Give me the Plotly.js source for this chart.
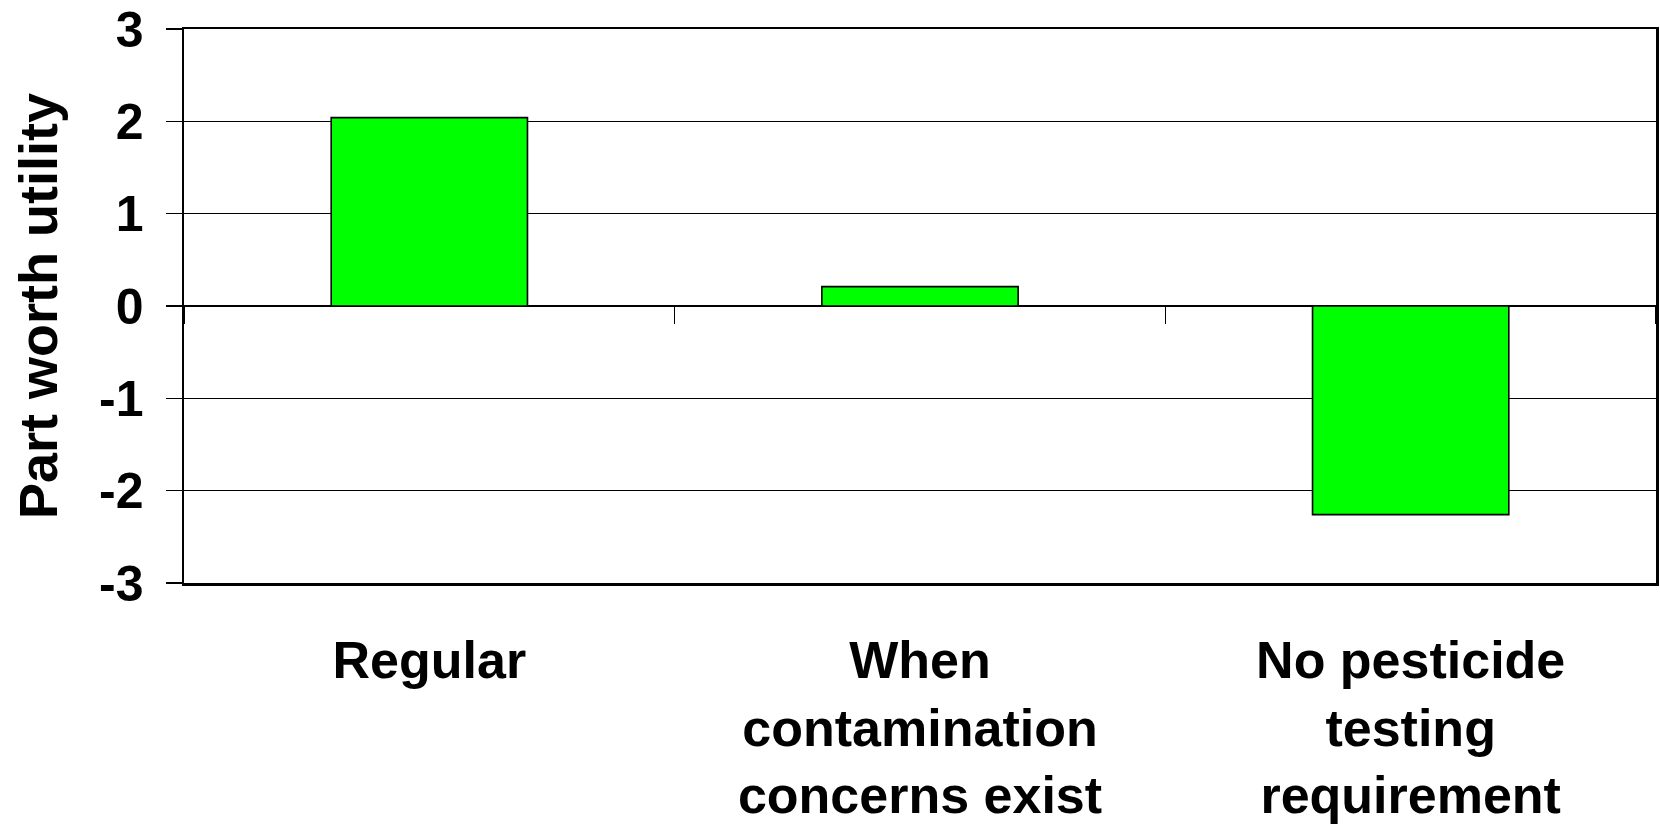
<!DOCTYPE html>
<html>
<head>
<meta charset="utf-8">
<script src="https://cdn.plot.ly/plotly-3.0.1.min.js"></script>
<style>
  html, body { margin: 0; padding: 0; background: #ffffff; }
  #chart { width: 1660px; height: 826px; }
</style>
</head>
<body>
<div id="chart"></div>
<script>
// Part worth utilities by pesticide testing level
const categories = [
  "Regular",
  "When<br>contamination<br>concerns exist",
  "No pesticide<br>testing<br>requirement"
];
const utilities = [2.04, 0.21, -2.26];
const yTickValues = [-3, -2, -1, 0, 1, 2, 3];
const yTitle = "Part worth utility";

const FONT = "Arial, 'Liberation Sans', Helvetica, sans-serif";

const traces = [
  {
    type: "bar",
    x: categories,
    y: utilities,
    marker: { color: "#00FF00", line: { color: "#000000", width: 1.6 } },
    hoverinfo: "x+y",
    showlegend: false
  },
  {
    // carries the category boundary ticks along the zero line
    type: "scatter",
    x: [],
    y: [],
    xaxis: "x2",
    yaxis: "y",
    showlegend: false,
    hoverinfo: "skip"
  }
];

const layout = {
  width: 1660,
  height: 826,
  margin: { l: 184, r: 4, t: 29, b: 243, pad: 0 },
  paper_bgcolor: "#ffffff",
  plot_bgcolor: "#ffffff",
  bargap: 0.6,
  font: { family: FONT, color: "#000000" },
  xaxis: {
    type: "category",
    categoryorder: "array",
    categoryarray: categories,
    range: [-0.5, 2.5],
    showline: true,
    linecolor: "#000000",
    linewidth: 2.5,
    mirror: true,
    ticks: "",
    showgrid: false,
    zeroline: false,
    ticklabelstandoff: 30,
    tickfont: { family: FONT, size: 52, weight: 700, color: "#000000" },
    fixedrange: true
  },
  xaxis2: {
    type: "category",
    overlaying: "x",
    anchor: "free",
    position: 0.5,
    categoryorder: "array",
    categoryarray: categories,
    range: [-0.5, 2.5],
    tickson: "boundaries",
    ticks: "outside",
    ticklen: 17,
    tickwidth: 1.6,
    tickcolor: "#000000",
    showticklabels: false,
    showline: false,
    showgrid: false,
    zeroline: false,
    fixedrange: true
  },
  yaxis: {
    range: [-3, 3],
    tickvals: yTickValues,
    ticktext: yTickValues.map(String),
    showline: true,
    linecolor: "#000000",
    linewidth: 2.5,
    mirror: true,
    ticks: "outside",
    ticklen: 16,
    tickwidth: 1.4,
    tickcolor: "#000000",
    showgrid: true,
    gridcolor: "#000000",
    gridwidth: 1.4,
    zeroline: true,
    zerolinecolor: "#000000",
    zerolinewidth: 1.6,
    ticklabelstandoff: 12,
    tickfont: { family: FONT, size: 50, weight: 700, color: "#000000" },
    title: {
      text: yTitle,
      font: { family: FONT, size: 54, weight: 700, color: "#000000" },
      standoff: 24
    },
    fixedrange: true
  }
};

Plotly.newPlot("chart", traces, layout, { displayModeBar: false, staticPlot: true });
</script>
</body>
</html>
